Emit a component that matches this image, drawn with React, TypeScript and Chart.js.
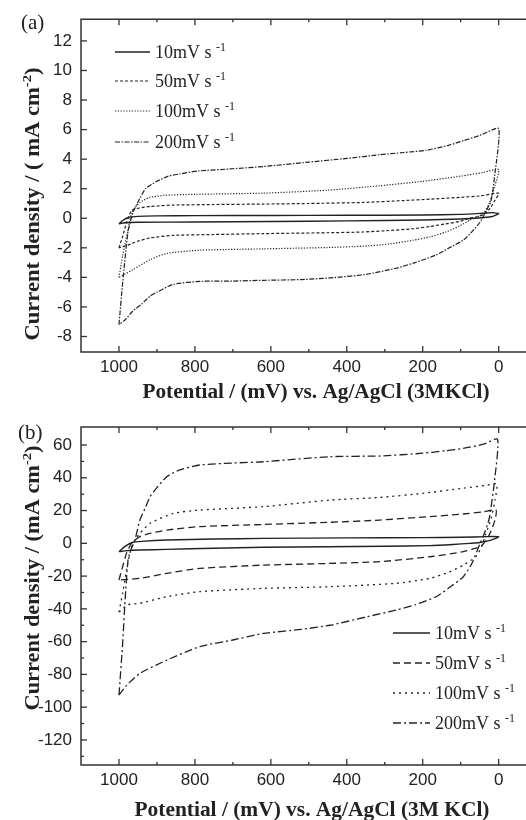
import React, { useEffect, useRef } from "react";
import { Chart, registerables } from "chart.js";
Chart.register(...registerables);

// ---------- data ----------
const xTicks = [0, 200, 400, 600, 800, 1000];
const xMinorTicks = [100, 300, 500, 700, 900];
const aYTicks = [-8, -6, -4, -2, 0, 2, 4, 6, 8, 10, 12];
const aYMinor: number[] = [];
const bYTicks = [-120, -100, -80, -60, -40, -20, 0, 20, 40, 60];
const bYMinor = [-130, -110, -90, -70, -50, -30, -10, 10, 30, 50];
const rateLabels = ["10mV s", "50mV s", "100mV s", "200mV s"];
const rateSup = "-1";

// Panel (a)
const a10x = [1000, 990, 975, 950, 900, 800, 600, 400, 200, 100, 40, 15, 0, 20, 50, 100, 200, 400, 600, 800, 950, 985, 1000];
const a10y = [-0.38, -0.15, 0.05, 0.13, 0.16, 0.18, 0.19, 0.2, 0.22, 0.26, 0.34, 0.38, 0.3, 0.1, 0.02, -0.05, -0.12, -0.18, -0.22, -0.25, -0.27, -0.3, -0.38];
const a50x = [1000, 990, 980, 967, 945, 918, 857, 750, 620, 500, 357, 250, 181, 100, 49, 0, 10, 25, 41, 60, 76, 100, 139, 180, 226, 300, 357, 450, 620, 750, 857, 918, 950, 975, 1000];
const a50y = [-2.0, -1.2, -0.3, 0.51, 0.7, 0.8, 0.89, 0.93, 0.96, 1.0, 1.07, 1.2, 1.29, 1.42, 1.51, 1.7, 1.2, 0.6, 0.24, 0.08, 0, -0.2, -0.38, -0.55, -0.71, -0.85, -0.93, -0.98, -1.04, -1.1, -1.16, -1.33, -1.55, -1.8, -2.0];
const a100x = [1000, 990, 978, 967, 955, 945, 920, 880, 800, 620, 450, 313, 200, 100, 40, 0, 10, 25, 41, 60, 76, 105, 139, 180, 226, 290, 357, 450, 620, 787, 874, 918, 963, 985, 1000];
const a100y = [-4.0, -2.5, -1.0, 0.3, 0.8, 1.07, 1.4, 1.55, 1.62, 1.7, 1.9, 2.2, 2.5, 2.85, 3.1, 3.3, 2.2, 1.0, 0.3, 0.05, -0.13, -0.55, -0.93, -1.25, -1.49, -1.75, -1.89, -1.98, -2.07, -2.16, -2.38, -2.8, -3.47, -3.8, -4.0];
const a200x = [1000, 990, 976, 963, 950, 930, 900, 870, 840, 790, 700, 620, 500, 400, 313, 250, 190, 130, 93, 50, 0, 10, 20, 37, 49, 70, 93, 130, 165, 220, 270, 350, 444, 520, 620, 700, 787, 857, 900, 918, 940, 963, 985, 1000];
const a200y = [-7.2, -4.3, -0.9, 0.4, 1.1, 2.0, 2.5, 2.85, 3.0, 3.2, 3.35, 3.5, 3.8, 4.05, 4.3, 4.45, 4.6, 4.95, 5.25, 5.6, 6.07, 3.0, 1.2, 0.3, -0.27, -0.9, -1.48, -2.0, -2.49, -3.0, -3.38, -3.8, -4.04, -4.15, -4.2, -4.25, -4.27, -4.47, -5.0, -5.27, -5.8, -6.27, -6.9, -7.2];

// Panel (b)
const b10x = [1000, 985, 965, 940, 874, 750, 620, 400, 200, 100, 30, 0, 20, 50, 76, 120, 181, 300, 450, 620, 750, 874, 945, 985, 1000];
const b10y = [-5.1, -2.0, 0.5, 1.2, 2.0, 2.6, 3.0, 3.3, 3.5, 3.7, 4.1, 4.0, 2.0, 0.5, 0, -0.7, -1.4, -1.8, -2.1, -2.4, -3.0, -3.7, -4.1, -4.6, -5.1];
const b50x = [1000, 990, 980, 970, 963, 945, 918, 874, 787, 620, 450, 313, 181, 93, 40, 7, 10, 25, 45, 60, 93, 181, 313, 450, 620, 787, 874, 945, 1000];
const b50y = [-22.4, -14, -6, -1, 1, 4.1, 6.1, 8.1, 10.2, 11.5, 12.8, 14.2, 16.3, 17.9, 19.2, 20.3, 14, 5, -1.5, -3, -5.1, -8.2, -11.2, -12.3, -13.3, -15.3, -18.3, -21.4, -22.4];
const b100x = [1000, 990, 980, 970, 963, 945, 918, 857, 787, 620, 444, 313, 200, 93, 30, 5, 10, 20, 35, 45, 60, 93, 130, 181, 270, 444, 620, 787, 874, 945, 976, 1000];
const b100y = [-42, -30, -16, -5, 0, 6.1, 12.2, 18.3, 20.3, 22.4, 26.4, 28, 30.5, 33.6, 35.5, 36.2, 26, 15, 5, -2, -8.2, -13.3, -17.5, -21.4, -24.4, -26.5, -27.5, -29.5, -32.6, -36.6, -37.5, -42];
const b200x = [1000, 990, 984, 976, 967, 958, 945, 930, 918, 900, 874, 840, 787, 700, 620, 444, 313, 200, 140, 93, 40, 3, 10, 25, 41, 49, 70, 93, 130, 165, 220, 270, 350, 444, 520, 620, 700, 787, 874, 945, 979, 1000];
const b200y = [-92.6, -60, -35, -10, -3, 2, 14.2, 22, 28.5, 34, 40.7, 44.8, 47.8, 49, 49.8, 52.9, 53.3, 55, 56.5, 58, 60.5, 63.5, 40, 15, 4, 0, -12, -20.4, -27, -32.6, -37.5, -40.7, -45, -50, -52.5, -55, -59, -63, -71.3, -79.4, -86.5, -92.6];

// ---------- drawing helpers ----------
const SERIF = "'Liberation Serif', 'Times New Roman', serif";
const SANS = "'Liberation Sans', Arial, sans-serif";
const INK = "#222";

type Part = { t: string; sup?: boolean };

function drawSupText(
  ctx: CanvasRenderingContext2D,
  parts: Part[],
  x: number,
  y: number,
  size: number,
  bold: boolean,
  align: "left" | "center",
  targetWidth?: number
) {
  const base = `${bold ? "bold " : ""}${size}px ${SERIF}`;
  const small = `${bold ? "bold " : ""}${Math.round(size * 0.65)}px ${SERIF}`;
  let total = 0;
  const widths = parts.map((p) => {
    ctx.font = p.sup ? small : base;
    const w = ctx.measureText(p.t).width;
    total += w;
    return w;
  });
  const sx = targetWidth ? targetWidth / total : 1;
  ctx.save();
  ctx.translate(x, y);
  ctx.scale(sx, 1);
  let cx = align === "center" ? -total / 2 : 0;
  ctx.textBaseline = "alphabetic";
  ctx.textAlign = "left";
  parts.forEach((p, i) => {
    ctx.font = p.sup ? small : base;
    ctx.fillText(p.t, cx, p.sup ? -size * 0.38 : 0);
    cx += widths[i];
  });
  ctx.restore();
}

const framePlugin = {
  id: "frame",
  afterDatasetsDraw(chart: any, _args: any, opts: any) {
    const { ctx, chartArea, scales } = chart;
    const { left, right, top, bottom } = chartArea;
    const x = scales.x;
    const y = scales.y;
    ctx.save();
    ctx.strokeStyle = "#333";
    ctx.lineWidth = 1.5;
    ctx.setLineDash([]);
    ctx.beginPath();
    ctx.moveTo(right, top);
    ctx.lineTo(left, top);
    ctx.lineTo(left, bottom);
    ctx.lineTo(right, bottom);
    ctx.stroke();
    ctx.lineWidth = 1.3;
    const seg = (x1: number, y1: number, x2: number, y2: number) => {
      ctx.beginPath();
      ctx.moveTo(x1, y1);
      ctx.lineTo(x2, y2);
      ctx.stroke();
    };
    opts.xMajor.forEach((v: number) => {
      const p = x.getPixelForValue(v);
      seg(p, bottom, p, bottom - 6);
      seg(p, top, p, top + 6);
    });
    opts.xMinor.forEach((v: number) => {
      const p = x.getPixelForValue(v);
      seg(p, bottom, p, bottom - 3);
      seg(p, top, p, top + 3);
    });
    opts.yMajor.forEach((v: number) => {
      const p = y.getPixelForValue(v);
      seg(left, p, left + 6, p);
    });
    opts.yMinor.forEach((v: number) => {
      const p = y.getPixelForValue(v);
      seg(left, p, left + 3, p);
    });

    // legend
    ctx.fillStyle = INK;
    chart.data.datasets.forEach((ds: any, i: number) => {
      const ly = opts.legendY[i];
      ctx.strokeStyle = ds.borderColor;
      ctx.lineWidth = ds.borderWidth;
      ctx.setLineDash(ds.borderDash || []);
      seg(opts.legendX1, ly, opts.legendX2, ly);
      ctx.setLineDash([]);
      drawSupText(ctx, [{ t: ds.label + " " }, { t: rateSup, sup: true }], opts.legendTextX, ly + 6, 18, false, "left");
    });

    // panel label
    ctx.font = `21px ${SERIF}`;
    ctx.textAlign = "left";
    ctx.textBaseline = "middle";
    ctx.fillText(opts.panel, opts.panelX, opts.panelY);

    // x title
    drawSupText(ctx, [{ t: opts.xTitle }], opts.xTitleX, opts.xTitleY, 20, true, "center", opts.xTitleW);

    // y title (rotated)
    ctx.save();
    ctx.translate(opts.yTitleX, opts.yTitleY);
    ctx.rotate(-Math.PI / 2);
    drawSupText(ctx, [{ t: opts.yTitleA }, { t: "-2", sup: true }, { t: ")" }], 0, 7, 20, true, "center", opts.yTitleW);
    ctx.restore();
    ctx.restore();
  },
};

type Series = { xs: number[]; ys: number[]; dash: number[]; width: number };

function Panel(props: {
  width: number;
  height: number;
  series: Series[];
  yMin: number;
  yMax: number;
  yTicks: number[];
  yMinor: number[];
  padTop: number;
  xHeight: number;
  frame: any;
}) {
  const ref = useRef<HTMLCanvasElement>(null);
  useEffect(() => {
    if (!ref.current) return;
    const chart = new Chart(ref.current, {
      type: "scatter",
      data: {
        datasets: props.series.map((s, i) => ({
          label: rateLabels[i],
          data: s.xs.map((x, j) => ({ x, y: s.ys[j] })),
          showLine: true,
          borderColor: INK,
          backgroundColor: INK,
          borderWidth: s.width,
          borderDash: s.dash,
          pointRadius: 0,
          tension: 0.2,
          fill: false,
        })),
      },
      options: {
        animation: false,
        responsive: false,
        maintainAspectRatio: false,
        layout: { padding: { top: props.padTop, right: 0, left: 0, bottom: 0 } },
        plugins: {
          legend: { display: false },
          tooltip: { enabled: false },
          frame: props.frame,
        } as any,
        scales: {
          x: {
            type: "linear",
            reverse: true,
            min: -72,
            max: 1100,
            afterBuildTicks: (s: any) => {
              s.ticks = xTicks.map((v) => ({ value: v }));
            },
            afterFit: (s: any) => {
              s.height = props.xHeight;
            },
            grid: { display: false, drawTicks: false },
            border: { display: false },
            ticks: {
              font: { family: SANS, size: 17 },
              color: INK,
              padding: 5,
              maxRotation: 0,
              autoSkip: false,
              callback: (v: any) => String(v),
            },
          },
          y: {
            type: "linear",
            min: props.yMin,
            max: props.yMax,
            afterBuildTicks: (s: any) => {
              s.ticks = props.yTicks.map((v) => ({ value: v }));
            },
            afterFit: (s: any) => {
              s.width = 81;
            },
            grid: { display: false, drawTicks: false },
            border: { display: false },
            ticks: {
              font: { family: SANS, size: 17 },
              color: INK,
              padding: 9,
              autoSkip: false,
              callback: (v: any) => String(v),
            },
          },
        },
      } as any,
      plugins: [framePlugin as any],
    });
    return () => chart.destroy();
  }, []);
  return (
    <canvas
      ref={ref}
      width={props.width}
      height={props.height}
      style={{ display: "block", width: props.width, height: props.height }}
    />
  );
}

export default function App() {
  const seriesA: Series[] = [
    { xs: a10x, ys: a10y, dash: [], width: 1.4 },
    { xs: a50x, ys: a50y, dash: [3, 2], width: 1.2 },
    { xs: a100x, ys: a100y, dash: [1.2, 1.6], width: 1.2 },
    { xs: a200x, ys: a200y, dash: [5, 1.5, 1.5, 1.5], width: 1.2 },
  ];
  const seriesB: Series[] = [
    { xs: b10x, ys: b10y, dash: [], width: 1.4 },
    { xs: b50x, ys: b50y, dash: [7, 4], width: 1.3 },
    { xs: b100x, ys: b100y, dash: [2, 4], width: 1.3 },
    { xs: b200x, ys: b200y, dash: [8, 3, 2, 3], width: 1.3 },
  ];
  return (
    <div
      style={{
        position: "absolute",
        left: 0,
        top: 0,
        width: 526,
        height: 820,
        overflow: "hidden",
        background: "#fff",
      }}
    >
      <Panel
        width={526}
        height={405}
        series={seriesA}
        yMin={-9.05}
        yMax={13.47}
        yTicks={aYTicks}
        yMinor={aYMinor}
        padTop={14}
        xHeight={53}
        frame={{
          xMajor: xTicks,
          xMinor: xMinorTicks,
          yMajor: aYTicks,
          yMinor: aYMinor,
          legendY: [52, 81, 111, 142],
          legendX1: 115,
          legendX2: 150,
          legendTextX: 155,
          panel: "(a)",
          panelX: 21,
          panelY: 23,
          xTitle: "Potential / (mV) vs. Ag/AgCl (3MKCl)",
          xTitleX: 316,
          xTitleY: 398,
          xTitleW: 347,
          yTitleA: "Current density / ( mA cm",
          yTitleX: 32,
          yTitleY: 204,
          yTitleW: 273,
        }}
      />
      <Panel
        width={526}
        height={415}
        series={seriesB}
        yMin={-135.3}
        yMax={71}
        yTicks={bYTicks}
        yMinor={bYMinor}
        padTop={22}
        xHeight={55}
        frame={{
          xMajor: xTicks,
          xMinor: xMinorTicks,
          yMajor: bYTicks,
          yMinor: bYMinor,
          legendY: [228, 258, 288, 318],
          legendX1: 393,
          legendX2: 430,
          legendTextX: 435,
          panel: "(b)",
          panelX: 18,
          panelY: 28,
          xTitle: "Potential / (mV) vs. Ag/AgCl (3M KCl)",
          xTitleX: 312,
          xTitleY: 411,
          xTitleW: 355,
          yTitleA: "Current density / (mA cm",
          yTitleX: 32,
          yTitleY: 173,
          yTitleW: 265,
        }}
      />
    </div>
  );
}
